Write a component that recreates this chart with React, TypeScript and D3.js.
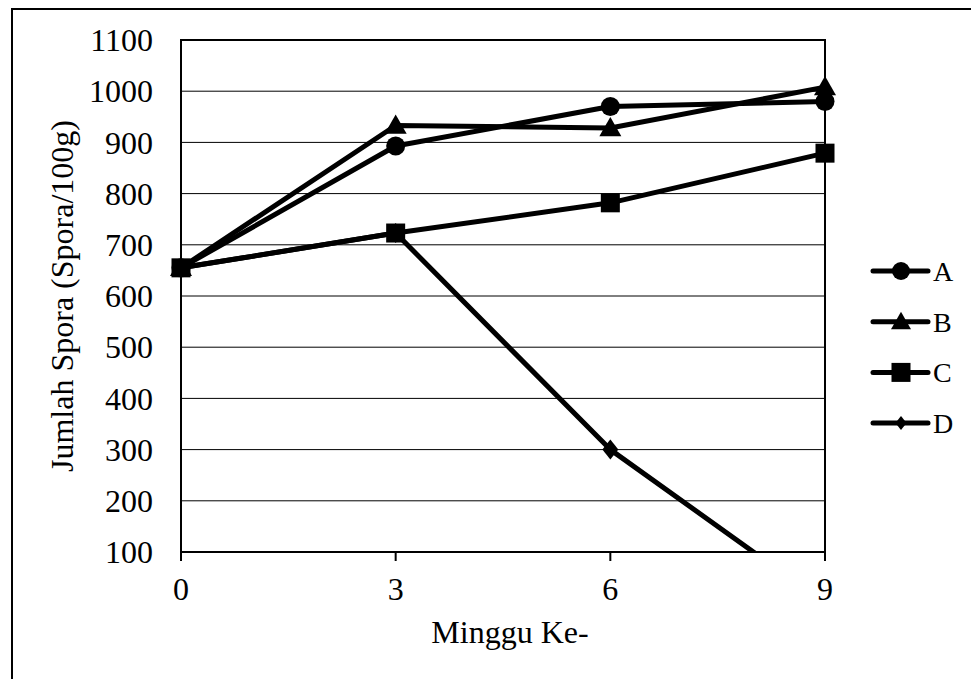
import React from "react";
import * as d3 from "d3";

const weeks = [0, 3, 6, 9];
const seriesNames = ["A", "B", "C", "D"];
const valuesA = [655, 893, 970, 980];
const valuesB = [655, 933, 928, 1008];
const valuesC = [655, 723, 782, 879];
const valuesD = [655, 723, 300, 0];
const yTicks = [100, 200, 300, 400, 500, 600, 700, 800, 900, 1000, 1100];
const xTicks = [0, 3, 6, 9];
const xTitle = "Minggu Ke-";
const yTitle = "Jumlah Spora (Spora/100g)";

const W = 971;
const H = 679;
const left = 181, right = 825, top = 40, bottom = 552;
const FONT = "Liberation Serif";
const FS = 32;

function Marker({ type, x, y, legend }: { type: string; x: number; y: number; legend?: boolean }) {
  if (type === "A") return <circle cx={x} cy={y} r={legend ? 9 : 9.5} fill="#000" />;
  if (type === "B") {
    const s = legend ? 10 : 11;
    return <path d={`M${x},${y - s}L${x + s},${y + s * 0.75}L${x - s},${y + s * 0.75}Z`} fill="#000" />;
  }
  if (type === "C") {
    const s = 9.5;
    return <rect x={x - s} y={y - s} width={2 * s} height={2 * s} fill="#000" />;
  }
  const s = legend ? 7 : 10;
  return <path d={`M${x},${y - s}L${x + s * 0.8},${y}L${x},${y + s}L${x - s * 0.8},${y}Z`} fill="#000" />;
}

export default function App() {
  const x = d3.scaleLinear().domain([0, 9]).range([left, right]);
  const y = d3.scaleLinear().domain([100, 1100]).range([bottom, top]);
  const allSeries = [valuesA, valuesB, valuesC, valuesD];
  const line = d3
    .line<number>()
    .x((_, i) => x(weeks[i]))
    .y((d) => y(d));

  return (
    <div style={{ position: "absolute", left: 0, top: 0 }}>
      <svg width={W} height={H} style={{ display: "block" }}>
        <rect x={0} y={0} width={W} height={H} fill="#fff" />
        <defs>
          <clipPath id="plotclip">
            <rect x={0} y={top - 20} width={W} height={bottom - top + 20} />
          </clipPath>
        </defs>
        <rect x={12} y={9} width={W + 50} height={H + 50} fill="none" stroke="#000" strokeWidth={2} />

        {yTicks.map((t) => (
          <line key={t} x1={left} x2={right} y1={y(t)} y2={y(t)} stroke="#000" strokeWidth={1} />
        ))}
        <rect x={left} y={top} width={right - left} height={bottom - top} fill="none" stroke="#000" strokeWidth={2} />
        {xTicks.map((t) => (
          <line key={t} x1={x(t)} x2={x(t)} y1={bottom} y2={bottom + 9} stroke="#000" strokeWidth={2} />
        ))}
        {yTicks.map((t) => (
          <text key={t} x={153} y={y(t)} dy="0.35em" textAnchor="end" fontFamily={FONT} fontSize={FS} fill="#000">
            {t}
          </text>
        ))}
        {xTicks.map((t) => (
          <text key={t} x={x(t)} y={600} textAnchor="middle" fontFamily={FONT} fontSize={FS} fill="#000">
            {t}
          </text>
        ))}
        <text x={510} y={643} textAnchor="middle" fontFamily={FONT} fontSize={FS} fill="#000">
          {xTitle}
        </text>
        <text
          transform={`translate(73,${(top + bottom) / 2}) rotate(-90)`}
          textAnchor="middle"
          fontFamily={FONT}
          fontSize={FS}
          fill="#000"
        >
          {yTitle}
        </text>

        <g clipPath="url(#plotclip)">
          {allSeries.map((vals, i) => (
            <path key={i} d={line(vals) || ""} fill="none" stroke="#000" strokeWidth={5} strokeLinejoin="round" />
          ))}
        </g>
        {allSeries.map((vals, i) =>
          vals.map((v, j) =>
            v >= 100 && v <= 1100 ? (
              <Marker key={`${i}-${j}`} type={seriesNames[i]} x={x(weeks[j])} y={y(v)} />
            ) : null
          )
        )}

        {seriesNames.map((n, i) => {
          const ly = 271 + i * 50.7;
          return (
            <g key={n}>
              <line x1={873} x2={928} y1={ly} y2={ly} stroke="#000" strokeWidth={5} strokeLinecap="round" />
              <Marker type={n} x={901} y={ly} legend />
              <text x={933} y={ly} dy="0.35em" fontFamily={FONT} fontSize={28} fill="#000">
                {n}
              </text>
            </g>
          );
        })}
      </svg>
    </div>
  );
}
